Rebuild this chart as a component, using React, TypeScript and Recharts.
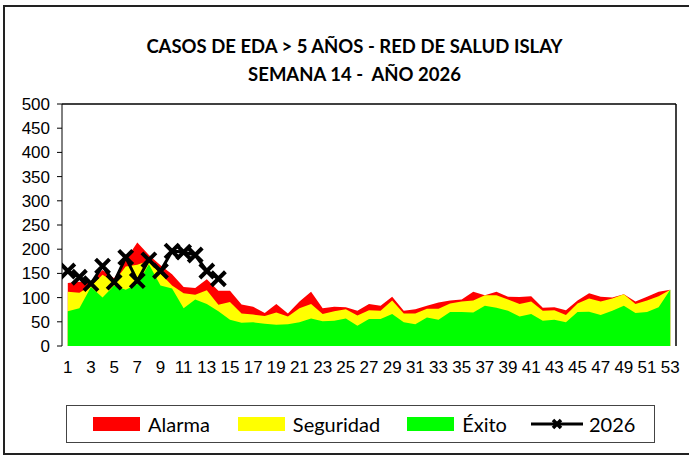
import React from "react";
import {
  ComposedChart,
  Area,
  Line,
  XAxis,
  YAxis,
  ReferenceLine,
} from "recharts";

// semanas epidemiologicas
const weeks = [
  1, 2, 3, 4, 5, 6, 7, 8, 9, 10, 11, 12, 13, 14, 15, 16, 17, 18, 19, 20, 21, 22,
  23, 24, 25, 26, 27, 28, 29, 30, 31, 32, 33, 34, 35, 36, 37, 38, 39, 40, 41, 42,
  43, 44, 45, 46, 47, 48, 49, 50, 51, 52, 53,
];

// canal endemico
const alarma = [
  130, 133, 133, 157, 140, 178, 214, 188, 167, 148, 122, 120, 138, 114, 114, 86,
  81, 68, 87, 67, 92, 112, 78, 81, 80, 73, 87, 83, 102, 73, 76, 83, 90, 94, 96,
  112, 105, 112, 102, 101, 103, 79, 80, 74, 94, 109, 102, 100, 107, 92, 102, 112,
  116,
];
const seguridad = [
  112, 110, 124, 147, 133, 164, 168, 176, 150, 125, 109, 106, 115, 85, 91, 67, 65,
  62, 69, 61, 78, 87, 66, 72, 76, 63, 74, 73, 94, 67, 67, 77, 77, 88, 92, 94, 105,
  105, 96, 87, 92, 73, 74, 64, 88, 98, 92, 98, 107, 87, 94, 103, 116,
];
const exito = [
  72, 78, 122, 100, 125, 116, 128, 169, 125, 119, 78, 96, 87, 72, 54, 48, 49, 46,
  44, 45, 49, 57, 51, 52, 57, 42, 56, 56, 66, 49, 45, 59, 54, 70, 70, 69, 83, 79,
  73, 61, 66, 52, 54, 49, 70, 71, 64, 73, 83, 68, 70, 80, 116,
];

// casos 2026 (hasta semana 14)
const casos2026 = [155, 142, 129, 165, 132, 183, 135, 178, 155, 196, 194, 188, 155, 139];

const yTicks = [0, 50, 100, 150, 200, 250, 300, 350, 400, 450, 500];
const xLabelTicks = weeks.filter((w) => w % 2 === 1);
const xTickMarks = [0, ...weeks].map((w) => w + 0.5);

const data = weeks.map((w, i) => ({
  week: w,
  alarma: alarma[i],
  seguridad: seguridad[i],
  exito: exito[i],
  y2026: i < casos2026.length ? casos2026[i] : null,
}));

const axisFont = "'Liberation Sans', Arial, sans-serif";
const textFont = "Lato, 'Noto Sans', sans-serif";

const XMark = (props: any) => {
  const { cx, cy, index } = props;
  if (cx == null || cy == null) return <g key={index} />;
  const s = 7;
  return (
    <path
      key={index}
      d={`M${cx - s},${cy - s}L${cx + s},${cy + s}M${cx - s},${cy + s}L${cx + s},${cy - s}`}
      stroke="#000"
      strokeWidth={4}
      fill="none"
    />
  );
};

const Swatch = ({ color }: { color: string }) => (
  <span
    style={{ display: "inline-block", width: 47, height: 14, background: color, marginRight: 8 }}
  />
);

export default function App() {
  return (
    <div
      style={{
        position: "absolute",
        left: 0,
        top: 0,
        width: 689,
        height: 456,
        background: "#fff",
        overflow: "hidden",
      }}
    >
      {/* marco */}
      <div
        style={{
          position: "absolute",
          left: 3,
          top: 5,
          width: 720,
          height: 446,
          border: "2px solid #222",
        }}
      />
      <div
        style={{
          position: "absolute",
          left: 0,
          width: 709,
          top: 32,
          textAlign: "center",
          fontFamily: textFont,
          fontWeight: 700,
          fontSize: 18.5,
          lineHeight: "28px",
          color: "#000",
        }}
      >
        CASOS DE EDA &gt; 5 AÑOS - RED DE SALUD ISLAY
        <br />
        SEMANA 14 - &nbsp;AÑO 2026
      </div>

      <div style={{ position: "absolute", left: 0, top: 0 }}>
        <ComposedChart
          width={689}
          height={456}
          data={data}
          margin={{ top: 104, right: 13, left: 22, bottom: 80 }}
        >
          <XAxis
            xAxisId="marks"
            type="number"
            dataKey="week"
            domain={[0.5, 53.5]}
            ticks={xTickMarks}
            tick={false}
            tickSize={5}
            height={0}
            stroke="#000"
            allowDataOverflow
          />
          <XAxis
            xAxisId="w"
            type="number"
            dataKey="week"
            domain={[0.5, 53.5]}
            ticks={xLabelTicks}
            interval={0}
            axisLine={false}
            tickLine={false}
            tickSize={5}
            tickMargin={10}
            height={30}
            tick={{ fill: "#000", fontSize: 17, fontFamily: axisFont }}
            allowDataOverflow
          />
          <YAxis
            domain={[0, 500]}
            ticks={yTicks}
            interval={0}
            width={40}
            stroke="#000"
            tickSize={5}
            tickMargin={7}
            tick={{ fill: "#000", fontSize: 17, fontFamily: axisFont }}
          />
          <ReferenceLine y={500} xAxisId="w" stroke="#000" strokeWidth={1.5} />
          <ReferenceLine x={53.5} xAxisId="w" stroke="#000" strokeWidth={1.5} />
          <Area
            xAxisId="w"
            type="linear"
            dataKey="alarma"
            name="Alarma"
            stroke="none"
            fill="#ff0000"
            fillOpacity={1}
            isAnimationActive={false}
          />
          <Area
            xAxisId="w"
            type="linear"
            dataKey="seguridad"
            name="Seguridad"
            stroke="none"
            fill="#ffff00"
            fillOpacity={1}
            isAnimationActive={false}
          />
          <Area
            xAxisId="w"
            type="linear"
            dataKey="exito"
            name="Éxito"
            stroke="none"
            fill="#00ff00"
            fillOpacity={1}
            isAnimationActive={false}
          />
          <Line
            xAxisId="w"
            type="linear"
            dataKey="y2026"
            name="2026"
            stroke="#000"
            strokeWidth={3}
            dot={XMark}
            activeDot={false}
            connectNulls={false}
            isAnimationActive={false}
          />
        </ComposedChart>
      </div>

      {/* leyenda */}
      <div
        style={{
          position: "absolute",
          left: 66,
          top: 405,
          width: 589,
          height: 38,
          border: "1px solid #444",
          boxSizing: "border-box",
          display: "flex",
          alignItems: "center",
          fontFamily: textFont,
          fontSize: 20,
          color: "#000",
          paddingLeft: 26,
        }}
      >
        <span style={{ display: "flex", alignItems: "center", marginRight: 28 }}>
          <Swatch color="#ff0000" />
          Alarma
        </span>
        <span style={{ display: "flex", alignItems: "center", marginRight: 27 }}>
          <Swatch color="#ffff00" />
          Seguridad
        </span>
        <span style={{ display: "flex", alignItems: "center", marginRight: 24 }}>
          <Swatch color="#00ff00" />
          Éxito
        </span>
        <span style={{ display: "flex", alignItems: "center" }}>
          <svg width={52} height={16} style={{ marginRight: 6 }}>
            <line x1={0} y1={8} x2={52} y2={8} stroke="#000" strokeWidth={3} />
            <path d="M22,4L30,12M22,12L30,4" stroke="#000" strokeWidth={3.5} />
          </svg>
          2026
        </span>
      </div>
    </div>
  );
}
